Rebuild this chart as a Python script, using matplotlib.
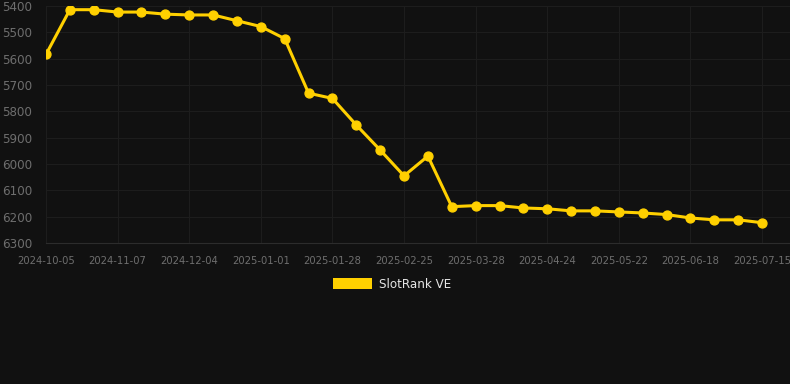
#!/usr/bin/env python3

import matplotlib
matplotlib.use('Agg')
import matplotlib.pyplot as plt
from matplotlib.patches import Patch

# one rank value per snapshot, oldest first
ranks = [5584, 5414, 5414, 5423, 5423, 5431, 5434, 5434, 5456, 5478,
         5524, 5731, 5751, 5852, 5947, 6045, 5970, 6162, 6158, 6158,
         6167, 6170, 6178, 6178, 6182, 6186, 6192, 6205, 6212, 6212,
         6223]
tick_labels = ['2024-10-05', '2024-11-07', '2024-12-04', '2025-01-01',
               '2025-01-28', '2025-02-25', '2025-03-28', '2025-04-24',
               '2025-05-22', '2025-06-18', '2025-07-15']
y_ticks = [5400, 5500, 5600, 5700, 5800, 5900, 6000, 6100, 6200, 6300]
series_name = 'SlotRank VE'

bg = '#111111'
gold = '#FFD000'

fig = plt.figure(figsize=(7.9, 3.84), dpi=100)
fig.patch.set_facecolor(bg)
ax = fig.add_axes([46 / 790, 1 - 243 / 384, 1 - 46 / 790, (243 - 6) / 384])
ax.set_facecolor(bg)

xs = list(range(len(ranks)))
ax.plot(xs, ranks, color=gold, linewidth=2.2, marker='o', markersize=6.4,
        markerfacecolor=gold, markeredgecolor=gold, zorder=3)

ax.set_xlim(0, 31.17)
ax.set_ylim(6300, 5400)
ax.set_xticks(range(0, len(ranks), 3))
ax.set_xticklabels(tick_labels)
ax.set_yticks(y_ticks)

ax.grid(True, color='#1d1d1d', linewidth=0.8)
ax.set_axisbelow(True)
for side in ['top', 'right', 'left']:
    ax.spines[side].set_visible(False)
ax.spines['bottom'].set_color('#2c2c2c')
ax.tick_params(axis='both', length=0, colors='#6e6e6e')
ax.tick_params(axis='y', labelsize=8.6, pad=10)
ax.tick_params(axis='x', labelsize=7.2, pad=9)

handle = Patch(facecolor=gold, edgecolor='none', label=series_name)
leg = fig.legend(handles=[handle], loc='center', bbox_to_anchor=(0.496, 0.26),
                 frameon=False, fontsize=8.6, handlelength=3.33,
                 handleheight=1.0, handletextpad=0.55)
for t in leg.get_texts():
    t.set_color('#e6e6e6')

plt.savefig('out.png', dpi=100, facecolor=bg)
